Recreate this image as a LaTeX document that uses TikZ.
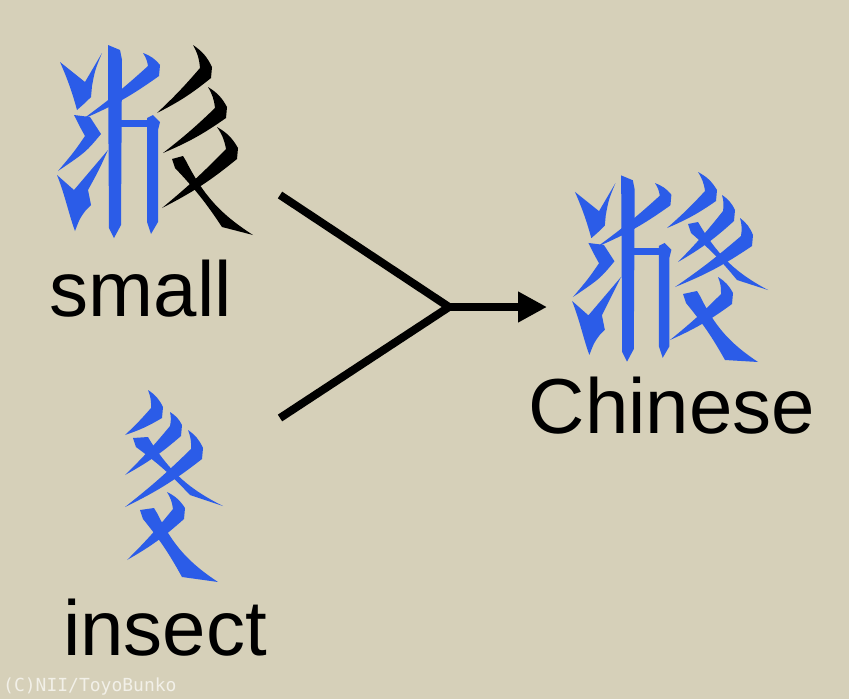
\documentclass[tikz,border=0pt]{standalone}
\usepackage{fontspec}
\setmainfont{Liberation Sans}
\newfontfamily\monofont{DejaVu Sans Mono}
\usetikzlibrary{arrows.meta,calc}
\definecolor{paper}{RGB}{214,208,185}
\definecolor{tangut}{RGB}{43,92,232}
\definecolor{credit}{RGB}{242,240,232}
% curved stroke: tip, head, end
\newcommand{\sweep}[3]{\fill (#1) to[bend left=15] (#2) -- ($(#2)+(-1,11)$) to[bend left=6] (#3) to[bend right=3] ($(#2)+(-12,1)$) to[bend right=12] (#1) -- cycle;}
% long falling stroke: hook left, hook right, end left, end right
\newcommand{\press}[4]{\fill (#1) -- (#2) -- ($(#2)+(3,5)$) to[bend right=15] (#4) -- (#3) to[bend right=5] ($(#1)+(3,9)$) -- cycle;}
% left half of the character
\newcommand{\leftpart}{%
	\fill (60,62) .. controls (72,72) .. (85,82) -- (102,53) .. controls (95,70) .. (92,86) -- (91,97) .. controls (85,103) .. (77,110) .. controls (73,95) and (68,80) .. (60,62) -- cycle;
	\fill (74,115) -- (90,117) .. controls (95,125) .. (101,134) .. controls (86,152) .. (58,171) .. controls (74,152) .. (85,136) .. controls (80,127) .. (74,115) -- cycle;
	\fill (57,175) .. controls (66,183) .. (74,190) -- (108,150) .. controls (99,170) .. (88,190) -- (91,205) -- (86,210) .. controls (80,218) .. (75,231) .. controls (69,215) and (65,195) .. (57,175) -- cycle;
	\fill (108,45) -- (120,50) -- (122,60) -- (121,225) -- (114,238) -- (109,228) -- (108,60) -- cycle;
	\sweep{143,53}{160,65}{83,119}
	\fill (121,120) -- (149,120) -- (149,127) -- (121,127) -- cycle;
	\fill (147,118) -- (153,115) -- (160,122) -- (158,130) -- (158,222) -- (151,234) -- (147,222) -- cycle;
}
\tikzset{
	word/.style={font=\fontsize{78}{80}\selectfont, inner sep=0pt, anchor=base},
	link/.style={line width=8pt, black}
}
\begin{document}
\begin{tikzpicture}[x=1pt,y=-1pt]
	\useasboundingbox (0,0) rectangle (849,699);
	\fill[paper] (0,0) rectangle (849,699);
	% small
	\begin{scope}[color=tangut]
		\leftpart
	\end{scope}
	\begin{scope}[color=black]
		\sweep{193,45}{212,67}{157,113}
		\sweep{208,87}{227,107}{163,153}
		\sweep{217,127}{238,148}{162,208}
		\press{172,159}{183,156}{222,227}{253,235}
	\end{scope}
	% insect
	\begin{scope}[color=tangut]
		\sweep{148,390}{163,407}{125,435}
		\sweep{170,412}{182,425}{125,475}
		\sweep{188,430}{203,448}{125,507}
		\press{133,438}{148,437}{190,495}{223,506}
		\sweep{167,492}{185,508}{127,560}
		\press{140,510}{154,508}{182,577}{218,582}
	\end{scope}
	% chinese
	\begin{scope}[shift={(517,132)},scale=0.965,color=tangut]
		\leftpart
	\end{scope}
	\begin{scope}[color=tangut]
		\sweep{698,172}{717,190}{667,228}
		\sweep{722,195}{735,210}{678,262}
		\sweep{740,218}{753,235}{675,287}
		\press{688,224}{698,222}{737,280}{768,290}
		\sweep{718,277}{733,293}{670,340}
		\press{683,294}{697,291}{725,360}{758,362}
	\end{scope}
	\node[word] (small) at (141,316) {small};
	\node[word] (insect) at (165,655) {insect};
	\node[word] (chinese) at (672,433) {Chinese};
	\coordinate (upper) at (280,195);
	\coordinate (lower) at (280,418);
	\coordinate (join) at (449,307);
	\coordinate (tip) at (547,307);
	\draw[link] (upper) -- (join) -- (lower);
	\draw[link,-{Triangle[length=29pt,width=29pt]}] (join) -- (tip);
	\node[anchor=base west, font=\monofont\fontsize{18}{20}\selectfont, text=credit, inner sep=0pt] (credit) at (3,691) {(C)NII/ToyoBunko};
\end{tikzpicture}
\end{document}
